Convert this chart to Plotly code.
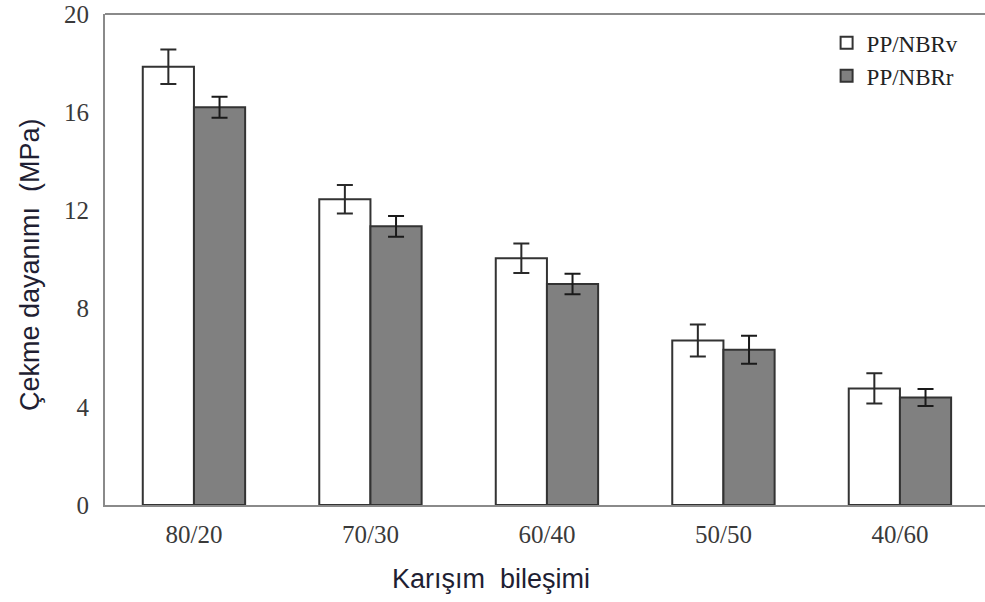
import plotly.graph_objects as go

# Blend ratios (PP/NBR) and tensile strength results
blends = ["80/20", "70/30", "60/40", "50/50", "40/60"]
strength_v = [17.85, 12.45, 10.05, 6.7, 4.75]
error_v = [0.7, 0.58, 0.6, 0.65, 0.62]
strength_r = [16.2, 11.35, 9.0, 6.32, 4.38]
error_r = [0.43, 0.42, 0.42, 0.57, 0.35]
y_ticks = [0, 4, 8, 12, 16, 20]

serif = "Liberation Serif, Times New Roman, serif"
sans = "Liberation Sans, Arial, sans-serif"
edge = "#333333"

fig = go.Figure()
fig.add_trace(go.Bar(
    x=blends, y=strength_v, name="PP/NBRv",
    marker=dict(color="white", line=dict(color=edge, width=2)),
    error_y=dict(type="data", array=error_v, color="#2a2a2a", thickness=2, width=8),
))
fig.add_trace(go.Bar(
    x=blends, y=strength_r, name="PP/NBRr",
    marker=dict(color="#808080", line=dict(color=edge, width=2)),
    error_y=dict(type="data", array=error_r, color="#1a1a1a", thickness=2, width=8),
))

fig.update_layout(
    width=985, height=602,
    margin=dict(l=105, r=0, t=14, b=97),
    paper_bgcolor="white", plot_bgcolor="white",
    barmode="group", bargap=0.42, bargroupgap=0,
    showlegend=True,
    legend=dict(
        x=0.82, y=0.985, xanchor="left", yanchor="top",
        font=dict(family=serif, size=23, color="#222"),
        bgcolor="rgba(0,0,0,0)", tracegroupgap=0, itemwidth=30,
    ),
    xaxis=dict(
        type="category", range=[-0.504, 4.482],
        showline=True, linecolor="#8a8a8a", linewidth=2,
        showgrid=False, ticks="", ticklabelstandoff=6,
        tickfont=dict(family=serif, size=25, color="#3a3a3a"),
    ),
    yaxis=dict(
        range=[0, 20], tickvals=y_ticks,
        showline=True, linecolor="#8a8a8a", linewidth=2,
        showgrid=False, zeroline=False, ticks="", ticklabelstandoff=9,
        tickfont=dict(family=serif, size=25, color="#3a3a3a"),
    ),
    shapes=[dict(type="line", xref="paper", yref="paper", x0=0, x1=1, y0=1, y1=1,
                 line=dict(color="#8a8a8a", width=2))],
    annotations=[
        dict(text="Karışım  bileşimi", xref="paper", yref="paper",
             x=(491 - 105) / 880, y=(505 - 579) / 491, xanchor="center", yanchor="middle",
             showarrow=False, font=dict(family=sans, size=27, color="#1f1f33")),
        dict(text="Çekme dayanımı  (MPa)", xref="paper", yref="paper",
             x=(30 - 105) / 880, y=(505 - 265) / 491, xanchor="center", yanchor="middle",
             textangle=-90, showarrow=False,
             font=dict(family=sans, size=27, color="#1f1f33")),
    ],
)

fig.write_html("out.html")
